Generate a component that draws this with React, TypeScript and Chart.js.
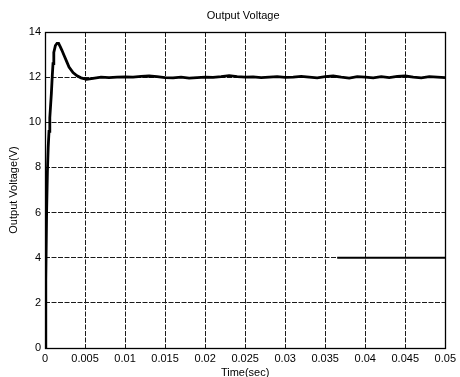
import React, { useEffect, useRef } from "react";
import { Chart, registerables } from "chart.js";

Chart.register(...registerables);

// Output voltage response (time in seconds, voltage in volts)
const timeSec = [
  0, 0.0001, 0.0002, 0.0003, 0.0004, 0.0005, 0.0006, 0.0008, 0.0009, 0.001,
  0.0011, 0.0013, 0.0015, 0.0017, 0.0019, 0.0021, 0.0024, 0.0027, 0.003,
  0.0035, 0.004, 0.0045, 0.0052, 0.006, 0.007, 0.008, 0.009, 0.01, 0.011,
  0.012, 0.013, 0.014, 0.015, 0.016, 0.017, 0.018, 0.019, 0.02, 0.021, 0.022,
  0.023, 0.024, 0.025, 0.026, 0.027, 0.028, 0.029, 0.03, 0.031, 0.032, 0.033,
  0.034, 0.035, 0.036, 0.037, 0.038, 0.039, 0.04, 0.041, 0.042, 0.043, 0.044,
  0.045, 0.046, 0.047, 0.048, 0.049, 0.05,
];
const voltage = [
  0, 3.0, 6.0, 7.8, 8.9, 9.6, 10.2, 11.3, 12.0, 12.6,
  13.1, 13.4, 13.5, 13.5, 13.35, 13.2, 12.95, 12.7, 12.45,
  12.2, 12.06, 11.97, 11.9, 11.95, 12.0, 11.98, 12.0, 12.01, 12.0,
  12.03, 12.05, 12.02, 11.98, 11.97, 12.0, 11.96, 11.98, 12.0, 11.99, 12.02,
  12.07, 12.02, 12.0, 12.01, 11.98, 12.0, 12.02, 11.99, 12.0, 12.03, 12.0,
  11.97, 12.02, 12.05, 12.0, 11.96, 12.02, 12.0, 11.97, 12.02, 11.98, 12.03,
  12.05, 12.0, 11.97, 12.02, 12.0, 11.98,
];

// Flat 4 V trace near the end of the window
const levelTime = [0.0365, 0.05];
const levelVoltage = [4, 4];

const xTickLabels = ["0", "0.005", "0.01", "0.015", "0.02", "0.025", "0.03", "0.035", "0.04", "0.045", "0.05"];
const yTickLabels = ["0", "2", "4", "6", "8", "10", "12", "14"];

const chartTitle = "Output Voltage";
const xTitle = "Time(sec)";
const yTitle = "Output Voltage(V)";

const FONT = "'Liberation Sans', Arial, sans-serif";

const titlePlugin = {
  id: "axesTitle",
  afterDraw(chart: Chart) {
    const { ctx, chartArea } = chart;
    ctx.save();
    ctx.font = `11px ${FONT}`;
    ctx.fillStyle = "#000";
    ctx.textAlign = "center";
    ctx.textBaseline = "middle";
    ctx.fillText(chartTitle, (chartArea.left + chartArea.right) / 2 - 2, 16);
    ctx.restore();
  },
};

const framePlugin = {
  id: "axesFrame",
  afterDraw(chart: Chart) {
    const { ctx, chartArea } = chart;
    const l = Math.round(chartArea.left) + 0.5;
    const t = Math.round(chartArea.top) + 0.5;
    const r = Math.round(chartArea.right) + 0.5;
    const b = Math.round(chartArea.bottom) + 0.5;
    ctx.save();
    ctx.strokeStyle = "#000";
    ctx.lineWidth = 1.3;
    ctx.strokeRect(l, t, r - l, b - t);
    ctx.restore();
  },
};

export default function App() {
  const canvasRef = useRef<HTMLCanvasElement | null>(null);

  useEffect(() => {
    const canvas = canvasRef.current;
    if (!canvas) return;

    const mainData = timeSec.map((t, i) => ({ x: t, y: voltage[i] }));
    const levelData = levelTime.map((t, i) => ({ x: t, y: levelVoltage[i] }));

    const chart = new Chart(canvas, {
      type: "line",
      data: {
        datasets: [
          {
            data: mainData,
            borderColor: "#000",
            borderWidth: 2.8,
            pointRadius: 0,
            tension: 0,
            fill: false,
          },
          {
            data: levelData,
            borderColor: "#000",
            borderWidth: 2,
            pointRadius: 0,
            tension: 0,
            fill: false,
          },
        ],
      },
      options: {
        responsive: false,
        animation: false,
        devicePixelRatio: 1,
        layout: { padding: { top: 32, right: 13, left: 0, bottom: 0 } },
        plugins: {
          legend: { display: false },
          title: { display: false },
          tooltip: { enabled: false },
        },
        scales: {
          x: {
            type: "linear",
            min: 0,
            max: 0.05,
            afterFit: (scale: any) => {
              scale.height = 29;
            },
            ticks: {
              stepSize: 0.005,
              color: "#000",
              font: { family: FONT, size: 11 },
              padding: 4,
              maxRotation: 0,
              autoSkip: false,
              callback: (_v: any, i: number) => xTickLabels[i],
            },
            grid: { color: "#1a1a1a", lineWidth: 1, drawTicks: false },
            border: { display: false, dash: [5, 1.5] },
            title: {
              display: true,
              text: xTitle,
              color: "#000",
              font: { family: FONT, size: 11, lineHeight: 1 },
              padding: { top: 0, bottom: -1 },
            },
          },
          y: {
            type: "linear",
            min: 0,
            max: 14,
            afterFit: (scale: any) => {
              scale.width = 45;
            },
            ticks: {
              stepSize: 2,
              color: "#000",
              font: { family: FONT, size: 11 },
              padding: 4,
              autoSkip: false,
              callback: (_v: any, i: number) => yTickLabels[i],
            },
            grid: { color: "#1a1a1a", lineWidth: 1, drawTicks: false },
            border: { display: false, dash: [5, 1.5] },
            title: {
              display: true,
              text: yTitle,
              color: "#000",
              font: { family: FONT, size: 11, lineHeight: 1.2 },
              padding: { top: 7.5, bottom: 0 },
            },
          },
        },
      },
      plugins: [titlePlugin, framePlugin],
    });

    return () => chart.destroy();
  }, []);

  return (
    <div style={{ position: "fixed", left: 0, top: 0, width: 460, height: 377, background: "#fff" }}>
      <canvas ref={canvasRef} width={460} height={377} style={{ display: "block" }} />
    </div>
  );
}
